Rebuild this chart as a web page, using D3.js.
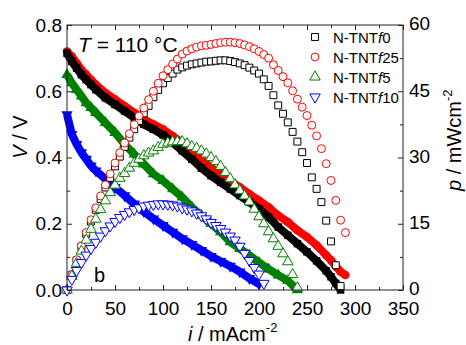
<!DOCTYPE html>
<html>
<head>
<meta charset="utf-8">
<script src="https://cdn.jsdelivr.net/npm/d3@7"></script>
<style>
  body { margin: 0; background: #fff; }
  text { font-family: "Liberation Sans", Arial, sans-serif; fill: #000; }
</style>
</head>
<body>
<script>
// current density grids (mA cm-2)
var vGrid = [0,5,10,15,20,25,30,40,50,60,70,80,90,100,110,120,130,140,150,160,170,180,190,200,210,220,230,240,250,260,270,275,280,285,290];
var pGrid = [0,5,10,15,20,25,30,35,40,45,50,55,60,65,70,75,80,85,90,95,100,105,110,115,120,125,130,135,140,145,150,155,160,165,170,175,180,185,190,195,200,205,210,215,220,225,230,235,240,245,250,255,260,265,270,275,280,285,290];

// cell voltage (V)
var vF0  = [0.715,0.69,0.67,0.65,0.635,0.62,0.605,0.58,0.56,0.54,0.52,0.50,0.485,0.468,0.445,0.42,0.395,0.368,0.345,0.325,0.305,0.285,0.265,0.245,0.22,0.19,0.165,0.14,0.115,0.088,0.058,0.04,0.02,0.0];
var vF25 = [0.72,0.705,0.685,0.665,0.65,0.635,0.62,0.595,0.575,0.555,0.535,0.515,0.50,0.485,0.465,0.445,0.42,0.395,0.37,0.35,0.33,0.31,0.29,0.27,0.25,0.225,0.205,0.18,0.16,0.135,0.105,0.09,0.072,0.055,0.045];
var vF5  = [0.65,0.625,0.605,0.585,0.565,0.55,0.535,0.505,0.475,0.44,0.41,0.38,0.35,0.33,0.305,0.28,0.25,0.225,0.20,0.175,0.145,0.125,0.105,0.083,0.063,0.045,0.028,0.0];
var vF10 = [0.53,0.47,0.44,0.415,0.395,0.375,0.36,0.335,0.31,0.285,0.26,0.237,0.215,0.195,0.175,0.155,0.138,0.12,0.102,0.087,0.072,0.055,0.035,0.018];

// power density (mW cm-2)
var pF0  = [0,3.45,6.7,9.75,12.7,15.5,18.15,20.6,23.2,25.4,28.0,30.2,32.4,34.5,36.4,38.3,40.0,41.7,43.65,45.3,46.8,48.0,49.0,49.9,50.4,50.8,51.1,51.3,51.5,51.7,51.75,51.9,52.0,52.0,51.85,51.6,51.3,50.9,50.35,49.7,49.0,47.7,46.2,44.1,41.8,39.9,37.95,35.8,33.6,31.2,28.75,25.5,22.9,19.9,15.7,11.0,5.6,0.9];
var pF25 = [0,3.5,6.85,10.0,13.0,15.9,18.6,21.3,23.8,26.3,28.75,31.1,33.3,35.4,37.45,39.4,41.2,43.1,45.0,46.8,48.5,49.9,51.15,52.3,53.4,54.1,54.6,55.0,55.3,55.4,55.6,55.8,56.0,56.1,56.1,56.0,55.8,55.5,55.1,54.6,54.0,53.3,52.5,51.0,49.7,48.3,46.9,45.1,43.2,41.4,39.5,37.3,34.9,32.0,28.6,24.8,20.3,15.8,13.0];
var pF5  = [0,3.1,6.05,8.8,11.3,13.75,16.05,18.2,20.2,22.05,23.75,25.3,26.4,27.6,28.7,29.6,30.4,31.0,31.5,32.3,33.0,33.3,33.55,33.6,33.6,33.1,32.5,32.1,31.5,30.8,30.0,29.1,28.0,26.6,25.2,23.8,22.5,21.3,19.95,18.3,16.6,15.0,13.2,11.6,9.9,8.2,6.4,3.5,0.5];
var pF10 = [0,2.4,4.4,6.2,7.9,9.4,10.8,12.2,13.4,14.5,15.5,16.4,17.1,17.7,18.2,18.6,19.0,19.2,19.35,19.5,19.5,19.4,19.25,19.0,18.6,18.3,17.9,17.4,16.8,16.1,15.3,14.6,13.9,13.1,12.2,11.3,9.9,8.3,6.65,5.1,3.6,1.5];

var sampleSuffix = ['0', '25', '5', '10'];
var colors = ['#000000', '#ff0000', '#008000', '#0000ff'];
var xTicks = [0,50,100,150,200,250,300,350];
var yTicks = [0,0.2,0.4,0.6,0.8];
var pTicks = [0,15,30,45,60];

var margin = {top: 25, right: 63, bottom: 55, left: 67}
, width = 466 - margin.left - margin.right
, height = 345 - margin.top - margin.bottom;

var x = d3.scaleLinear().domain([0, 350]).range([0, width]);
var yV = d3.scaleLinear().domain([0, 0.8]).range([height, 0]);
var yP = d3.scaleLinear().domain([0, 60]).range([height, 0]);

var svg = d3.select('body').append('svg')
    .attr('width', 466)
    .attr('height', 345);

var main = svg.append('g')
    .attr('transform', 'translate(' + margin.left + ',' + margin.top + ')');

function zip(xs, ys) {
  return ys.map(function(d, k) { return [xs[k], d]; });
}

var symbols = [d3.symbolSquare, d3.symbolCircle, d3.symbolTriangle, d3.symbolTriangle];
var rotations = [0, 0, 0, 180];

var vSets = [vF0, vF25, vF5, vF10];
var pSets = [pF0, pF25, pF5, pF10];

// polarization curves: dense filled markers
var drawOrder = [1, 0, 2, 3];
drawOrder.forEach(function(k) {
  var pts = zip(vGrid, vSets[k]);
  main.append('path')
      .datum(pts)
      .attr('fill', 'none')
      .attr('stroke', colors[k])
      .attr('stroke-width', 8)
      .attr('stroke-linejoin', 'round')
      .attr('d', d3.line().x(function(d) { return x(d[0]); }).y(function(d) { return yV(d[1]); }));
  main.append('g').selectAll('path')
      .data(pts)
      .enter().append('path')
      .attr('d', d3.symbol().type(symbols[k]).size(56))
      .attr('transform', function(d) { return 'translate(' + x(d[0]) + ',' + yV(d[1]) + ') rotate(' + rotations[k] + ')'; })
      .attr('fill', colors[k]);
});

// power curves: open markers
[0, 1, 2, 3].forEach(function(k) {
  var pts = zip(pGrid, pSets[k]);
  main.append('g').selectAll('path')
      .data(pts)
      .enter().append('path')
      .attr('d', d3.symbol().type(symbols[k]).size(k == 1 ? 50 : 48))
      .attr('transform', function(d) { return 'translate(' + x(d[0]) + ',' + yP(d[1]) + ') rotate(' + rotations[k] + ')'; })
      .attr('fill', '#fff')
      .attr('stroke', colors[k])
      .attr('stroke-width', 1);
});

// frame and axes
main.append('rect').attr('width', width).attr('height', height)
    .attr('fill', 'none').attr('stroke', '#222').attr('stroke-width', 1);

function styleAxis(g) {
  g.select('.domain').remove();
  g.selectAll('line').attr('stroke', '#222');
  g.selectAll('text').style('font-size', '19px').style('font-family', '"Liberation Sans", Arial, sans-serif');
}

main.append('g').attr('transform', 'translate(0,' + height + ')')
    .call(d3.axisBottom(x).tickValues(xTicks).tickSize(-5).tickPadding(12))
    .call(styleAxis);
main.append('g').attr('transform', 'translate(0,' + height + ')')
    .call(d3.axisBottom(x).tickValues([25,75,125,175,225,275,325]).tickSize(-3).tickFormat(''))
    .call(styleAxis);
main.append('g')
    .call(d3.axisTop(x).tickValues(xTicks).tickSize(-5).tickFormat(''))
    .call(styleAxis);
main.append('g')
    .call(d3.axisTop(x).tickValues([25,75,125,175,225,275,325]).tickSize(-3).tickFormat(''))
    .call(styleAxis);

main.append('g')
    .call(d3.axisLeft(yV).tickValues(yTicks).tickSize(-5).tickPadding(5).tickFormat(d3.format('.1f')))
    .call(styleAxis);
main.append('g')
    .call(d3.axisLeft(yV).tickValues([0.1,0.3,0.5,0.7]).tickSize(-3).tickFormat(''))
    .call(styleAxis);

main.append('g').attr('transform', 'translate(' + width + ',0)')
    .call(d3.axisRight(yP).tickValues(pTicks).tickSize(-5).tickPadding(6))
    .call(styleAxis)
    .selectAll('text').attr('dy', '0.25em');
main.append('g').attr('transform', 'translate(' + width + ',0)')
    .call(d3.axisRight(yP).tickValues([7.5,22.5,37.5,52.5]).tickSize(-3).tickFormat(''))
    .call(styleAxis);

// axis titles
var xt = svg.append('text').attr('x', 188).attr('y', 341).style('font-size', '20px');
xt.append('tspan').style('font-style', 'italic').text('i');
xt.append('tspan').text(' / mAcm');
xt.append('tspan').attr('dy', -9).style('font-size', '13px').text('-2');

var yt = svg.append('text').attr('transform', 'translate(27,137) rotate(-90)')
    .attr('text-anchor', 'middle').style('font-size', '20px');
yt.append('tspan').style('font-style', 'italic').text('V');
yt.append('tspan').text(' / V');

var pt = svg.append('text').attr('transform', 'translate(461,191) rotate(-90)')
    .style('font-size', '20px');
pt.append('tspan').style('font-style', 'italic').text('p');
pt.append('tspan').text(' / mWcm');
pt.append('tspan').attr('dy', -9).style('font-size', '13px').text('-2');

// annotations
var tt = svg.append('text').attr('x', 78).attr('y', 52).style('font-size', '21px');
tt.append('tspan').style('font-style', 'italic').text('T');
tt.append('tspan').text(' = 110 °C');

svg.append('text').attr('x', 94).attr('y', 282).style('font-size', '20px').text('b');

// legend
var legend = svg.append('g').attr('transform', 'translate(315,37)');
sampleSuffix.forEach(function(s, k) {
  var row = legend.append('g').attr('transform', 'translate(0,' + (k * 20) + ')');
  row.append('path')
      .attr('d', d3.symbol().type(symbols[k]).size(48))
      .attr('transform', 'rotate(' + rotations[k] + ')')
      .attr('fill', '#fff')
      .attr('stroke', colors[k]);
  var t = row.append('text').attr('x', 18).attr('y', 6).style('font-size', '15px');
  t.append('tspan').text('N-TNT');
  t.append('tspan').style('font-style', 'italic').text('f');
  t.append('tspan').text(s);
});
</script>
</body>
</html>
